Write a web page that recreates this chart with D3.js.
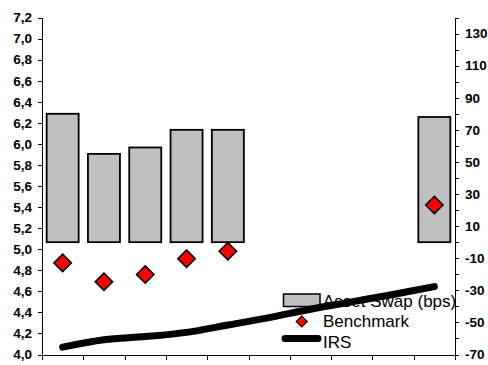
<!DOCTYPE html>
<html>
<head>
<meta charset="utf-8">
<script src="https://cdn.jsdelivr.net/npm/d3@7/dist/d3.min.js"></script>
<style>
  html, body { margin: 0; padding: 0; background: #fff; }
  svg { display: block; }
  .axis text { font-family: "Liberation Sans", Arial, sans-serif; font-weight: bold; font-size: 13.5px; fill: #000; }
  .axis path, .axis line { stroke: #000; stroke-width: 1; shape-rendering: crispEdges; }
  .legend text { font-family: "Liberation Sans", Arial, sans-serif; font-size: 17px; fill: #000; }
</style>
</head>
<body>
<svg id="chart" width="488" height="365"></svg>
<script>
// ---- data ----
const categories = ["C1", "C2", "C3", "C4", "C5", "C6", "C7", "C8", "C9", "C10"];
const assetSwap = [80, 55, 59, 70, 70, null, null, null, null, 78];           // bps, right axis
const benchmark = [4.87, 4.69, 4.76, 4.91, 4.98, null, null, null, null, 5.42]; // left axis
const irs = [4.07, 4.14, 4.17, 4.21, 4.28, 4.35, 4.43, 4.50, 4.57, 4.645];    // left axis
const leftTicks = [4.0, 4.2, 4.4, 4.6, 4.8, 5.0, 5.2, 5.4, 5.6, 5.8, 6.0, 6.2, 6.4, 6.6, 6.8, 7.0, 7.2];
const rightTickMarks = [-70, -60, -50, -40, -30, -20, -10, 0, 10, 20, 30, 40, 50, 60, 70, 80, 90, 100, 110, 120, 130, 140];
const rightLabels = [-70, -50, -30, -10, 10, 30, 50, 70, 90, 110, 130];
const legendLabels = ["Asset Swap (bps)", "Benchmark", "IRS"];

// ---- layout ----
const L = 42, R = 455, T = 17.5, B = 354.5;
const svg = d3.select("#chart");

const x = d3.scaleBand().domain(categories).range([L, R]).padding(0);
const xEdge = d3.scaleLinear().domain([0, categories.length]).range([L, R]);
const yL = d3.scaleLinear().domain([4.0, 7.2]).range([B, T]);
const yR = d3.scaleLinear().domain([-70, 140]).range([B, T]);

const diamond = area => d3.symbol(d3.symbolSquare, area)();

// ---- legend (drawn beneath the series) ----
const lg = svg.append("g").attr("class", "legend");
lg.append("rect").attr("x", 283.5).attr("y", 294).attr("width", 36.5).attr("height", 12.5)
  .attr("fill", "#c0c0c0").attr("stroke", "#000").attr("stroke-width", 1.5);
lg.append("path").attr("d", diamond(60)).attr("transform", "translate(301.7,321.5) rotate(45)")
  .attr("fill", "#ff0000").attr("stroke", "#000").attr("stroke-width", 1.2);
lg.append("line").attr("x1", 285).attr("x2", 318).attr("y1", 338.5).attr("y2", 338.5)
  .attr("stroke", "#000").attr("stroke-width", 7).attr("stroke-linecap", "round");
lg.selectAll("text").data(legendLabels).join("text")
  .attr("x", 323).attr("y", (d, i) => 306.5 + i * 20.5).text(d => d);

// ---- bars ----
const barData = categories.map((c, i) => ({ c, v: assetSwap[i] })).filter(d => d.v != null);
svg.append("g").selectAll("rect").data(barData).join("rect")
  .attr("x", d => x(d.c) + x.bandwidth() * 0.1125)
  .attr("width", x.bandwidth() * 0.775)
  .attr("y", d => yR(d.v))
  .attr("height", d => yR(0) - yR(d.v))
  .attr("fill", "#c0c0c0").attr("stroke", "#000").attr("stroke-width", 1.8);

// ---- IRS line ----
const lineGen = d3.line()
  .x((d, i) => x(categories[i]) + x.bandwidth() / 2)
  .y(d => yL(d))
  .curve(d3.curveCatmullRom.alpha(0.5));
svg.append("path").datum(irs).attr("d", lineGen)
  .attr("fill", "none").attr("stroke", "#000").attr("stroke-width", 7).attr("stroke-linecap", "round");

// ---- benchmark diamonds ----
const bmData = categories.map((c, i) => ({ c, v: benchmark[i] })).filter(d => d.v != null);
svg.append("g").selectAll("path").data(bmData).join("path")
  .attr("d", diamond(150))
  .attr("transform", d => `translate(${x(d.c) + x.bandwidth() / 2},${yL(d.v)}) rotate(45)`)
  .attr("fill", "#ff0000").attr("stroke", "#000").attr("stroke-width", 1.6);

// ---- axes ----
svg.append("g").attr("class", "axis").attr("transform", `translate(${L},0)`)
  .call(d3.axisLeft(yL).tickValues(leftTicks).tickSize(4).tickSizeOuter(0).tickPadding(6)
    .tickFormat(d => d.toFixed(1).replace(".", ",")));

svg.append("g").attr("class", "axis").attr("transform", `translate(${R},0)`)
  .call(d3.axisRight(yR).tickValues(rightTickMarks).tickSize(4).tickSizeOuter(0).tickPadding(6)
    .tickFormat(d => rightLabels.includes(d) ? String(d) : ""));

svg.append("g").attr("class", "axis").attr("transform", `translate(0,${B})`)
  .call(d3.axisBottom(xEdge).tickValues(d3.range(0, categories.length + 1)).tickSize(5).tickSizeOuter(0)
    .tickFormat(() => ""));
</script>
</body>
</html>
